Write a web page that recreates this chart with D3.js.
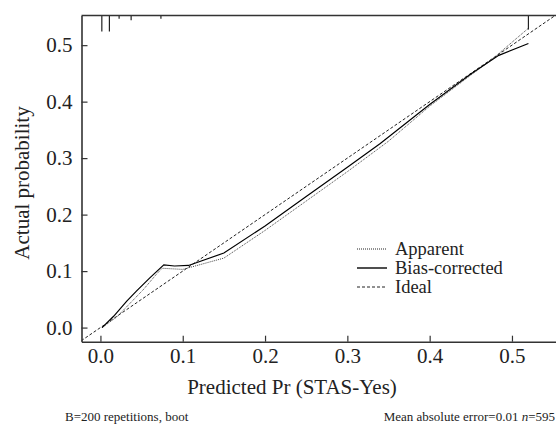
<!DOCTYPE html>
<html lang="en">
  <head>
    <meta charset="UTF-8" />
    <title>Calibration plot</title>
    <style>
      body { margin: 0; background: #fff; }
      svg { display: block; font-family: "Liberation Serif", "Times New Roman", serif; }
    </style>
  </head>
  <body>
    <div id="chart"></div>

    <script src="https://cdn.jsdelivr.net/npm/d3@7"></script>
    <script>
    // values
    var xTicks = [0.0, 0.1, 0.2, 0.3, 0.4, 0.5];
    var yTicks = [0.0, 0.1, 0.2, 0.3, 0.4, 0.5];

    var apparentX = [0.002, 0.020, 0.036, 0.052, 0.069, 0.075, 0.100, 0.150, 0.200, 0.250, 0.300, 0.350, 0.400, 0.450, 0.475, 0.520];
    var apparentY = [0.000, 0.019, 0.043, 0.067, 0.096, 0.105, 0.103, 0.123, 0.172, 0.224, 0.276, 0.330, 0.392, 0.447, 0.474, 0.530];

    var biasX = [0.002, 0.016, 0.032, 0.044, 0.060, 0.077, 0.090, 0.107, 0.150, 0.200, 0.250, 0.300, 0.340, 0.400, 0.450, 0.484, 0.520];
    var biasY = [0.000, 0.020, 0.047, 0.065, 0.088, 0.111, 0.109, 0.110, 0.132, 0.180, 0.232, 0.284, 0.326, 0.395, 0.449, 0.482, 0.503];

    var idealX = [-1, 1];
    var idealY = [-1, 1];

    // distribution of predictions (spikes at the top)
    var riskX = [0.0017, 0.0109, 0.0227, 0.0373, 0.0735, 0.520];
    var riskFreq = [1.0, 1.0, 0.2, 0.3, 0.2, 0.88];

    var legendNames = ["Apparent", "Bias-corrected", "Ideal"];

    var width = 556, height = 427;
    var plotLeft = 81.5, plotTop = 15.5, plotBottom = 341.7;

    var svg = d3.select("#chart").append("svg")
        .attr("width", width)
        .attr("height", height);

    var x = d3.scaleLinear().domain([-0.023, 0.5535]).range([plotLeft, 556]);
    var y = d3.scaleLinear().domain([-0.025, 0.5525]).range([plotBottom, plotTop]);

    svg.append("clipPath").attr("id", "plotclip")
      .append("rect")
        .attr("x", plotLeft).attr("y", plotTop)
        .attr("width", 600 - plotLeft).attr("height", plotBottom - plotTop);

    var line = d3.line()
        .x(function(d){ return x(d[0]); })
        .y(function(d){ return y(d[1]); });

    var plot = svg.append("g").attr("clip-path", "url(#plotclip)");

    var ideal = idealX.map(function(v, i){ return [v, idealY[i]]; });
    var apparent = apparentX.map(function(v, i){ return [v, apparentY[i]]; });
    var bias = biasX.map(function(v, i){ return [v, biasY[i]]; });

    plot.append("path")
        .attr("d", line(ideal))
        .attr("fill", "none")
        .attr("stroke", "#222")
        .attr("stroke-width", 1)
        .attr("stroke-dasharray", "3,2");

    plot.append("path")
        .attr("d", line(apparent))
        .attr("fill", "none")
        .attr("stroke", "#444")
        .attr("stroke-width", 1)
        .attr("stroke-dasharray", "1,1");

    plot.append("path")
        .attr("d", line(bias))
        .attr("fill", "none")
        .attr("stroke", "#000")
        .attr("stroke-width", 1.2);

    // spikes
    svg.selectAll("line.risk")
      .data(riskX)
      .enter()
      .append("line")
        .attr("class", "risk")
        .attr("x1", function(d){ return x(d); })
        .attr("x2", function(d){ return x(d); })
        .attr("y1", plotTop)
        .attr("y2", function(d, i){ return plotTop + riskFreq[i] * 16; })
        .attr("stroke", "#222")
        .attr("stroke-width", 1.2);

    // axes
    var xAxis = d3.axisBottom(x)
        .tickValues(xTicks)
        .tickFormat(d3.format(".1f"))
        .tickSizeInner(-6)
        .tickSizeOuter(0)
        .tickPadding(6);

    var yAxis = d3.axisLeft(y)
        .tickValues(yTicks)
        .tickFormat(d3.format(".1f"))
        .tickSizeInner(-6)
        .tickSizeOuter(0)
        .tickPadding(9);

    var gx = svg.append("g")
        .attr("transform", "translate(0," + plotBottom + ")")
        .call(xAxis);

    var gy = svg.append("g")
        .attr("transform", "translate(" + plotLeft + ",0)")
        .call(yAxis);

    [gx, gy].forEach(function(g){
      g.selectAll("path.domain").attr("stroke", "#333").attr("stroke-width", 1.6);
      g.selectAll(".tick line").attr("stroke", "#333").attr("stroke-width", 1.2);
      g.selectAll(".tick text")
        .attr("fill", "#222")
        .style("font-family", "'Liberation Serif', serif")
        .style("font-size", "21px");
    });

    // top border
    svg.append("line")
        .attr("x1", plotLeft).attr("x2", width)
        .attr("y1", plotTop).attr("y2", plotTop)
        .attr("stroke", "#333")
        .attr("stroke-width", 1.6);

    // axis titles
    svg.append("text")
        .attr("x", 292)
        .attr("y", 394)
        .attr("text-anchor", "middle")
        .style("font-size", "21px")
        .attr("fill", "#222")
        .text("Predicted Pr (STAS-Yes)");

    svg.append("text")
        .attr("transform", "translate(29,183) rotate(-90)")
        .attr("text-anchor", "middle")
        .style("font-size", "21px")
        .attr("fill", "#222")
        .text("Actual probability");

    // legend
    var dashes = ["1,1", null, "3,2"];
    var widths = [1, 1.6, 1];
    var legend = svg.append("g");
    legendNames.forEach(function(name, i){
      var ly = 249 + i * 19;
      legend.append("line")
          .attr("x1", 357).attr("x2", 387)
          .attr("y1", ly).attr("y2", ly)
          .attr("stroke", "#222")
          .attr("stroke-width", widths[i])
          .attr("stroke-dasharray", dashes[i]);
      legend.append("text")
          .attr("x", 395)
          .attr("y", ly + 6)
          .style("font-size", "18.5px")
          .attr("fill", "#222")
          .text(name);
    });

    // footer
    svg.append("text")
        .attr("x", 65)
        .attr("y", 421)
        .style("font-size", "13px")
        .attr("fill", "#222")
        .text("B=200 repetitions, boot");

    var foot = svg.append("text")
        .attr("x", 555)
        .attr("y", 421)
        .attr("text-anchor", "end")
        .style("font-size", "13px")
        .attr("fill", "#222");
    foot.append("tspan").text("Mean absolute error=0.01 ");
    foot.append("tspan").style("font-style", "italic").text("n");
    foot.append("tspan").text("=595");
    </script>
  </body>
</html>
